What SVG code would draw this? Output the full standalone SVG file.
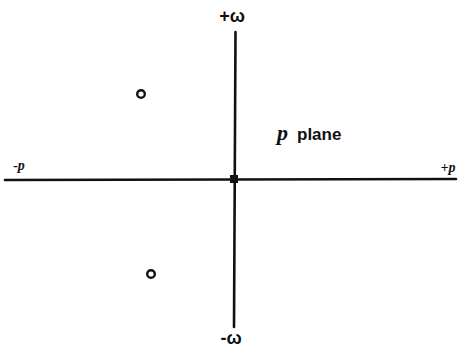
<svg xmlns="http://www.w3.org/2000/svg" width="459" height="347" viewBox="0 0 459 347">
<style>
.ax{stroke:#111;stroke-width:2.6;fill:none;stroke-linecap:round}
.pt{stroke:#111;stroke-width:2.4;fill:#fff}
.lbl{font-family:"Liberation Sans",Arial,sans-serif;font-weight:bold;fill:#111}
.it{font-family:"Liberation Serif","Times New Roman",serif;font-style:italic;font-weight:bold;fill:#111}
</style>
<rect width="459" height="347" fill="#fff"/>
<g id="connectors">
<line class="ax" x1="5" y1="180" x2="456" y2="179"/>
<line class="ax" x1="235.5" y1="32" x2="234" y2="327"/>
</g>
<g id="origin"><rect x="230" y="175" width="8" height="8" fill="#111"/></g>
<g id="zero-upper"><circle class="pt" cx="141" cy="94" r="3.8"/></g>
<g id="zero-lower"><circle class="pt" cx="151" cy="274" r="3.8"/></g>
<g id="label-pos-omega"><text class="lbl" x="232" y="22" font-size="18" text-anchor="middle">+ω</text></g>
<g id="label-neg-omega"><text class="lbl" x="231" y="344" font-size="18" text-anchor="middle">-ω</text></g>
<g id="label-neg-p"><text class="it" x="19" y="170" font-size="14" text-anchor="middle">-p</text></g>
<g id="label-pos-p"><text class="it" x="448" y="172" font-size="14" text-anchor="middle">+p</text></g>
<g id="label-plane"><text x="277" y="140"><tspan class="it" font-size="22">p</tspan><tspan class="lbl" font-size="17" dx="9">plane</tspan></text></g>
</svg>
